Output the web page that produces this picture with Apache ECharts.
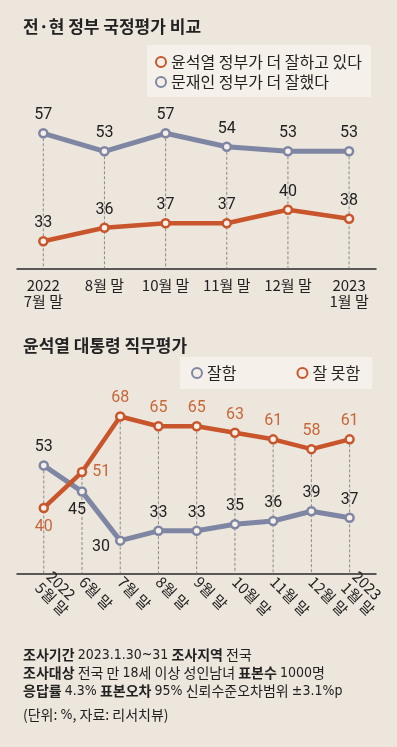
<!DOCTYPE html>
<html><head><meta charset="utf-8">
<script src="https://cdn.jsdelivr.net/npm/echarts@6/dist/echarts.min.js"></script>
<style>html,body{margin:0;padding:0;background:#ede6dc;}#c{width:397px;height:747px;}</style>
</head><body><div id="c"></div>
<script>
// ---- data ----
const c1Categories = ['2022\n7월 말', '8월 말', '10월 말', '11월 말', '12월 말', '2023\n1월 말'];
const c1Yoon = [33, 36, 37, 37, 40, 38];
const c1Moon = [57, 53, 57, 54, 53, 53];
const c2Categories = ['2022\n5월 말', '6월 말', '7월 말', '8월 말', '9월 말', '10월 말', '11월 말', '12월 말', '2023\n1월 말'];
const c2Good = [53, 45, 30, 33, 33, 35, 36, 39, 37];
const c2Bad = [40, 51, 68, 65, 65, 63, 61, 58, 61];
const c1Names = ['윤석열 정부가 더 잘하고 있다', '문재인 정부가 더 잘했다'];
const c2Names = ['잘함', '잘 못함'];

// ---- styles ----
const ORANGE = '#c8552b', ORANGE_TXT = '#c6673a', BLUE = '#7e86a3', FILL = '#f6efe8', TXT = '#222';
const NUM_FONT = 'Roboto, "Noto Sans CJK KR", sans-serif';
const KR_FONT = '"Noto Sans CJK KR", sans-serif';
const NARROW_FONT = '"Liberation Sans Narrow", "DejaVu Sans Condensed", Roboto, sans-serif';
const c2BadLabel = {0: {position: 'bottom', distance: 6}, 1: {position: 'right', distance: 5}};
const c2GoodLabel = {1: {position: 'bottom', distance: 5, offset: [-5, 0]}, 2: {position: 'left', distance: 5, offset: [0, 6]}};
const c1Y = [27, 60], c2Y = [20, 75];

const idx = arr => arr.map((_, i) => i);
function pts(vals, overrides) {
  return vals.map((v, i) => {
    const o = {value: [i, v]};
    if (overrides && overrides[i]) o.label = overrides[i];
    return o;
  });
}
function dropData(a, b) { return a.map((v, i) => [i, Math.max(v, b[i])]); }
function dropSeries(xi, yi, data, yMin) {
  return {
    type: 'custom', xAxisIndex: xi, yAxisIndex: yi, z: 1, silent: true, data: data,
    renderItem: (params, api) => {
      const p = api.coord([api.value(0), api.value(1)]);
      const b = api.coord([api.value(0), yMin]);
      return {type: 'line', shape: {x1: p[0], y1: p[1], x2: b[0], y2: b[1]},
        style: {stroke: '#8a8a8a', lineWidth: 1, lineDash: [3, 2]}};
    }
  };
}
function lineSeries(name, xi, yi, vals, color, labelColor, overrides, z, width) {
  return {
    name: name, type: 'line', xAxisIndex: xi, yAxisIndex: yi, z: z,
    data: pts(vals, overrides), symbol: 'circle', symbolSize: 8,
    lineStyle: {color: color, width: width},
    itemStyle: {color: FILL, borderColor: color, borderWidth: 2.5},
    label: {show: true, position: 'top', distance: 5, color: labelColor,
      fontSize: 16, fontFamily: NUM_FONT, formatter: p => p.value[1]},
    emphasis: {disabled: true}
  };
}
function xAxis(gi, cats, min, max, rotate) {
  return {
    type: 'value', gridIndex: gi, min: min, max: max,
    axisLine: {show: true, lineStyle: {color: '#2a2a2a', width: 1.5}},
    axisTick: {show: false}, splitLine: {show: false},
    axisLabel: {
      customValues: idx(cats), formatter: v => cats[Math.round(v)] || '',
      color: TXT, fontSize: 15, fontFamily: KR_FONT, lineHeight: 16,
      margin: rotate ? 6 : 9, rotate: rotate || 0
    }
  };
}
function yAxis(gi, r) {
  return {type: 'value', gridIndex: gi, min: r[0], max: r[1], show: false, splitLine: {show: false}};
}

const noteRich = {
  b: {fontSize: 14, fontWeight: 'bold', color: TXT, fontFamily: KR_FONT, lineHeight: 18},
  n: {fontSize: 14, fontWeight: 'normal', color: TXT, fontFamily: NARROW_FONT, lineHeight: 18}
};

const chart = echarts.init(document.getElementById('c'), null, {renderer: 'canvas'});
chart.setOption({
  backgroundColor: '#ede6dc',
  animation: false,
  title: [
    {text: '전·현 정부 국정평가 비교', left: 18, top: 13,
      textStyle: {fontSize: 17, fontWeight: 'bold', color: TXT, fontFamily: KR_FONT}},
    {text: '윤석열 대통령 직무평가', left: 18, top: 332,
      textStyle: {fontSize: 17, fontWeight: 'bold', color: TXT, fontFamily: KR_FONT}},
    {text: '{b|조사기간} {n|2023.1.30~31} {b|조사지역} 전국\n{b|조사대상} 전국 만 {n|18}세 이상 성인남녀 {b|표본수} {n|1000}명\n{b|응답률} {n|4.3%} {b|표본오차} {n|95%} 신뢰수준오차범위 {n|±3.1%p}',
      left: 18, top: 641,
      textStyle: {fontSize: 14, fontWeight: 'normal', color: TXT, fontFamily: KR_FONT, lineHeight: 18, rich: noteRich}},
    {text: '(단위: {n|%}, 자료: 리서치뷰)', left: 18, top: 701,
      textStyle: {fontSize: 14, fontWeight: 'normal', color: TXT, fontFamily: KR_FONT, lineHeight: 18, rich: noteRich}}
  ],
  legend: [
    {data: c1Names, orient: 'vertical', left: 147, top: 45, padding: [8, 9, 6, 8],
      backgroundColor: '#f5f1ea', icon: 'circle', itemWidth: 10, itemHeight: 10, itemGap: 2,
      textStyle: {fontSize: 16, color: TXT, fontFamily: KR_FONT, lineHeight: 18}, selectedMode: false},
    {data: c2Names, orient: 'horizontal', left: 180, top: 357, padding: [7, 12, 7, 11],
      backgroundColor: '#f5f1ea', icon: 'circle', itemWidth: 10, itemHeight: 10, itemGap: 60,
      textStyle: {fontSize: 16, color: TXT, fontFamily: KR_FONT, lineHeight: 18}, selectedMode: false}
  ],
  grid: [
    {left: 17, right: 21, top: 119.8, bottom: 747 - 268.3},
    {left: 17, right: 21, top: 393.6, bottom: 747 - 573.3}
  ],
  xAxis: [xAxis(0, c1Categories, -0.43, 5.44), xAxis(1, c2Categories, -0.70, 8.69, -45)],
  yAxis: [yAxis(0, c1Y), yAxis(1, c2Y)],
  series: [
    dropSeries(0, 0, dropData(c1Yoon, c1Moon), c1Y[0]),
    lineSeries(c1Names[1], 0, 0, c1Moon, BLUE, TXT, null, 3, 5),
    lineSeries(c1Names[0], 0, 0, c1Yoon, ORANGE, TXT, null, 4, 4.5),
    dropSeries(1, 1, dropData(c2Good, c2Bad), c2Y[0]),
    lineSeries(c2Names[0], 1, 1, c2Good, BLUE, TXT, c2GoodLabel, 3, 5),
    lineSeries(c2Names[1], 1, 1, c2Bad, ORANGE, ORANGE_TXT, c2BadLabel, 4, 4.5)
  ]
});
</script></body></html>
